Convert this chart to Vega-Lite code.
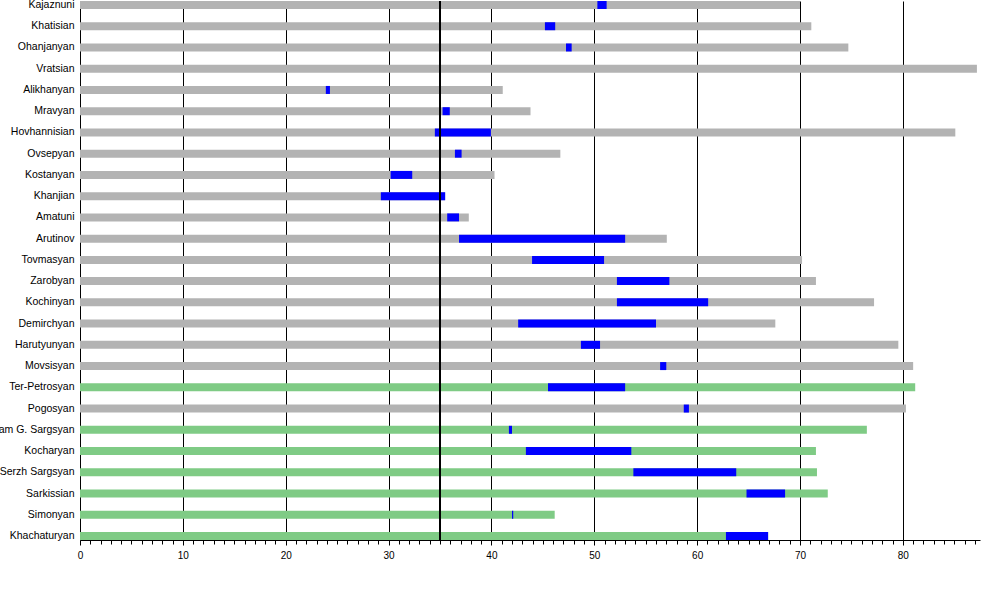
{
  "$schema": "https://vega.github.io/schema/vega-lite/v6.json",
  "description": "Ages of Armenian leaders: lifespan bars with time in office in blue, reference line at age 35.",
  "autosize": {"type": "none"},
  "padding": {"left": 80, "top": 1, "right": 20, "bottom": 60},
  "width": 900,
  "height": 539,
  "background": "white",
  "config": {
    "view": {"stroke": null},
    "axis": {"labelFont": "Liberation Sans", "labelColor": "black"}
  },
  "data": {
    "values": [
      {"name": "Kajaznuni", "kind": "grey", "end": 70.0, "start": 50.3, "stop": 51.2},
      {"name": "Khatisian", "kind": "grey", "end": 71.1, "start": 45.2, "stop": 46.2},
      {"name": "Ohanjanyan", "kind": "grey", "end": 74.7, "start": 47.25, "stop": 47.8},
      {"name": "Vratsian", "kind": "grey", "end": 87.2, "start": null, "stop": null},
      {"name": "Alikhanyan", "kind": "grey", "end": 41.1, "start": 23.9, "stop": 24.3},
      {"name": "Mravyan", "kind": "grey", "end": 43.8, "start": 35.25, "stop": 35.95},
      {"name": "Hovhannisian", "kind": "grey", "end": 85.1, "start": 34.5, "stop": 39.95},
      {"name": "Ovsepyan", "kind": "grey", "end": 46.7, "start": 36.45, "stop": 37.1},
      {"name": "Kostanyan", "kind": "grey", "end": 40.3, "start": 30.2, "stop": 32.3},
      {"name": "Khanjian", "kind": "grey", "end": 35.5, "start": 29.25, "stop": 35.5},
      {"name": "Amatuni", "kind": "grey", "end": 37.8, "start": 35.7, "stop": 36.85},
      {"name": "Arutinov", "kind": "grey", "end": 57.05, "start": 36.85, "stop": 53.0},
      {"name": "Tovmasyan", "kind": "grey", "end": 70.2, "start": 43.95, "stop": 50.95},
      {"name": "Zarobyan", "kind": "grey", "end": 71.55, "start": 52.2, "stop": 57.3},
      {"name": "Kochinyan", "kind": "grey", "end": 77.2, "start": 52.2, "stop": 61.07},
      {"name": "Demirchyan", "kind": "grey", "end": 67.6, "start": 42.6, "stop": 56.0},
      {"name": "Harutyunyan", "kind": "grey", "end": 79.56, "start": 48.7, "stop": 50.56},
      {"name": "Movsisyan", "kind": "grey", "end": 81.0, "start": 56.4, "stop": 57.0},
      {"name": "Ter-Petrosyan", "kind": "green", "end": 81.2, "start": 45.5, "stop": 53.0},
      {"name": "Pogosyan", "kind": "grey", "end": 80.3, "start": 58.7, "stop": 59.2},
      {"name": "Aram G. Sargsyan", "kind": "green", "end": 76.5, "start": 41.7, "stop": 42.0},
      {"name": "Kocharyan", "kind": "green", "end": 71.55, "start": 43.35, "stop": 53.6},
      {"name": "Serzh Sargsyan", "kind": "green", "end": 71.65, "start": 53.8, "stop": 63.8},
      {"name": "Sarkissian", "kind": "green", "end": 72.7, "start": 64.8, "stop": 68.55},
      {"name": "Simonyan", "kind": "green", "end": 46.15, "start": 42.0, "stop": 42.12},
      {"name": "Khachaturyan", "kind": "green", "end": 66.9, "start": 62.8, "stop": 66.9}
    ]
  },
  "encoding": {
    "y": {
      "field": "name",
      "type": "nominal",
      "sort": null,
      "title": null,
      "scale": {"paddingInner": 0.6234, "paddingOuter": 0},
      "axis": {
        "ticks": false,
        "domainColor": "black",
        "labelFontSize": 10.5,
        "labelPadding": 6,
        "labelLimit": 200
      }
    }
  },
  "layer": [
    {
      "mark": {"type": "bar", "cornerRadius": 0},
      "encoding": {
        "x": {
          "field": "end",
          "type": "quantitative",
          "title": null,
          "scale": {"domain": [0, 87.5], "nice": false, "zero": true},
          "axis": {
            "values": [0, 1, 2, 3, 4, 5, 6, 7, 8, 9, 10, 11, 12, 13, 14, 15, 16, 17, 18, 19, 20, 21, 22, 23, 24, 25, 26, 27, 28, 29, 30, 31, 32, 33, 34, 35, 36, 37, 38, 39, 40, 41, 42, 43, 44, 45, 46, 47, 48, 49, 50, 51, 52, 53, 54, 55, 56, 57, 58, 59, 60, 61, 62, 63, 64, 65, 66, 67, 68, 69, 70, 71, 72, 73, 74, 75, 76, 77, 78, 79, 80, 81, 82, 83, 84, 85, 86, 87],
            "tickCount": 200,
            "format": "d",
            "labelExpr": "datum.value % 10 === 0 ? datum.label : ''",
            "labelOverlap": false,
            "labelFlush": false,
            "labelFontSize": 10,
            "labelPadding": 5,
            "domainColor": "black",
            "tickColor": "black",
            "tickSize": {"condition": {"test": "datum.value % 10 === 0", "value": 5}, "value": 4},
            "grid": true,
            "gridColor": "black",
            "gridOpacity": {"condition": {"test": "datum.value % 10 === 0 && datum.value > 0", "value": 1}, "value": 0}
          }
        },
        "color": {
          "field": "kind",
          "type": "nominal",
          "scale": {"domain": ["grey", "green"], "range": ["#b3b3b3", "#7fcb85"]},
          "legend": null
        }
      }
    },
    {
      "mark": {"type": "bar", "color": "#0000ff", "cornerRadius": 0},
      "encoding": {
        "x": {"field": "start", "type": "quantitative"},
        "x2": {"field": "stop"}
      }
    },
    {
      "mark": {"type": "rule", "color": "black", "strokeWidth": 2},
      "encoding": {"x": {"datum": 35}, "y": null}
    }
  ]
}
